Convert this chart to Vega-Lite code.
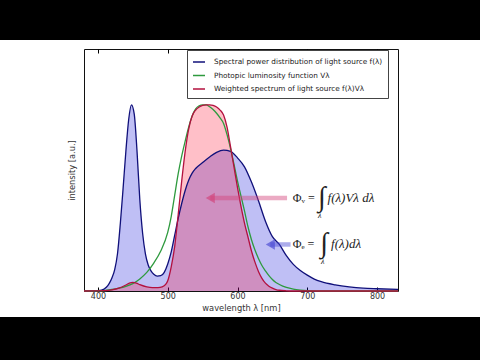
{
 "$schema": "https://vega.github.io/schema/vega-lite/v6.json",
 "background": "white",
 "padding": 0,
 "spacing": 8,
 "config": {"view": {"stroke": null}, "font": "DejaVu Sans"},
 "datasets": {
  "c": [
   {"w":380,"s":"f","v":0},{"w":395,"s":"f","v":0.001},{"w":405,"s":"f","v":0.005},{"w":412,"s":"f","v":0.02},{"w":416,"s":"f","v":0.04},{"w":420,"s":"f","v":0.07},{"w":424,"s":"f","v":0.115},{"w":428,"s":"f","v":0.2},{"w":432,"s":"f","v":0.36},{"w":436,"s":"f","v":0.55},{"w":440,"s":"f","v":0.75},{"w":444,"s":"f","v":0.92},{"w":448,"s":"f","v":1.0},{"w":452,"s":"f","v":0.95},{"w":456,"s":"f","v":0.75},{"w":460,"s":"f","v":0.49},{"w":464,"s":"f","v":0.31},{"w":468,"s":"f","v":0.2},{"w":472,"s":"f","v":0.14},{"w":476,"s":"f","v":0.108},{"w":480,"s":"f","v":0.09},{"w":485,"s":"f","v":0.08},{"w":490,"s":"f","v":0.082},{"w":495,"s":"f","v":0.1},{"w":500,"s":"f","v":0.145},{"w":505,"s":"f","v":0.21},{"w":510,"s":"f","v":0.3},{"w":515,"s":"f","v":0.39},{"w":520,"s":"f","v":0.47},{"w":525,"s":"f","v":0.54},{"w":530,"s":"f","v":0.595},{"w":535,"s":"f","v":0.633},{"w":540,"s":"f","v":0.658},{"w":550,"s":"f","v":0.69},{"w":560,"s":"f","v":0.72},{"w":570,"s":"f","v":0.745},{"w":580,"s":"f","v":0.757},{"w":590,"s":"f","v":0.75},{"w":600,"s":"f","v":0.715},{"w":610,"s":"f","v":0.667},{"w":620,"s":"f","v":0.585},{"w":630,"s":"f","v":0.485},{"w":640,"s":"f","v":0.375},{"w":650,"s":"f","v":0.292},{"w":660,"s":"f","v":0.25},{"w":670,"s":"f","v":0.19},{"w":680,"s":"f","v":0.143},{"w":690,"s":"f","v":0.11},{"w":700,"s":"f","v":0.085},{"w":710,"s":"f","v":0.064},{"w":720,"s":"f","v":0.05},{"w":740,"s":"f","v":0.033},{"w":760,"s":"f","v":0.022},{"w":780,"s":"f","v":0.015},{"w":800,"s":"f","v":0.012},{"w":830,"s":"f","v":0.009},
   {"w":380,"s":"V","v":0},{"w":405,"s":"V","v":0.001},{"w":420,"s":"V","v":0.008},{"w":430,"s":"V","v":0.015},{"w":440,"s":"V","v":0.025},{"w":450,"s":"V","v":0.04},{"w":460,"s":"V","v":0.065},{"w":470,"s":"V","v":0.1},{"w":480,"s":"V","v":0.15},{"w":490,"s":"V","v":0.215},{"w":500,"s":"V","v":0.315},{"w":505,"s":"V","v":0.4},{"w":510,"s":"V","v":0.515},{"w":515,"s":"V","v":0.63},{"w":520,"s":"V","v":0.725},{"w":525,"s":"V","v":0.805},{"w":530,"s":"V","v":0.88},{"w":535,"s":"V","v":0.94},{"w":540,"s":"V","v":0.978},{"w":545,"s":"V","v":0.995},{"w":550,"s":"V","v":1.0},{"w":555,"s":"V","v":1.0},{"w":560,"s":"V","v":0.99},{"w":565,"s":"V","v":0.975},{"w":570,"s":"V","v":0.955},{"w":575,"s":"V","v":0.93},{"w":580,"s":"V","v":0.9},{"w":585,"s":"V","v":0.84},{"w":590,"s":"V","v":0.765},{"w":595,"s":"V","v":0.68},{"w":600,"s":"V","v":0.59},{"w":605,"s":"V","v":0.51},{"w":610,"s":"V","v":0.43},{"w":615,"s":"V","v":0.345},{"w":620,"s":"V","v":0.275},{"w":625,"s":"V","v":0.22},{"w":630,"s":"V","v":0.175},{"w":635,"s":"V","v":0.137},{"w":640,"s":"V","v":0.108},{"w":645,"s":"V","v":0.083},{"w":650,"s":"V","v":0.062},{"w":655,"s":"V","v":0.046},{"w":660,"s":"V","v":0.035},{"w":670,"s":"V","v":0.019},{"w":680,"s":"V","v":0.01},{"w":690,"s":"V","v":0.005},{"w":700,"s":"V","v":0.002},{"w":720,"s":"V","v":0},{"w":830,"s":"V","v":0},
   {"w":380,"s":"fV","v":0},{"w":410,"s":"fV","v":0.002},{"w":420,"s":"fV","v":0.006},{"w":430,"s":"fV","v":0.015},{"w":440,"s":"fV","v":0.032},{"w":445,"s":"fV","v":0.042},{"w":450,"s":"fV","v":0.046},{"w":455,"s":"fV","v":0.042},{"w":460,"s":"fV","v":0.034},{"w":470,"s":"fV","v":0.022},{"w":478,"s":"fV","v":0.018},{"w":486,"s":"fV","v":0.018},{"w":492,"s":"fV","v":0.022},{"w":497,"s":"fV","v":0.035},{"w":500,"s":"fV","v":0.055},{"w":505,"s":"fV","v":0.13},{"w":510,"s":"fV","v":0.24},{"w":515,"s":"fV","v":0.41},{"w":520,"s":"fV","v":0.59},{"w":525,"s":"fV","v":0.75},{"w":530,"s":"fV","v":0.87},{"w":535,"s":"fV","v":0.94},{"w":540,"s":"fV","v":0.972},{"w":545,"s":"fV","v":0.988},{"w":550,"s":"fV","v":0.997},{"w":555,"s":"fV","v":1.0},{"w":560,"s":"fV","v":1.0},{"w":565,"s":"fV","v":0.997},{"w":570,"s":"fV","v":0.988},{"w":575,"s":"fV","v":0.972},{"w":580,"s":"fV","v":0.945},{"w":585,"s":"fV","v":0.88},{"w":590,"s":"fV","v":0.775},{"w":595,"s":"fV","v":0.665},{"w":600,"s":"fV","v":0.555},{"w":605,"s":"fV","v":0.455},{"w":610,"s":"fV","v":0.365},{"w":615,"s":"fV","v":0.29},{"w":620,"s":"fV","v":0.215},{"w":625,"s":"fV","v":0.155},{"w":630,"s":"fV","v":0.105},{"w":635,"s":"fV","v":0.068},{"w":640,"s":"fV","v":0.042},{"w":645,"s":"fV","v":0.026},{"w":650,"s":"fV","v":0.015},{"w":655,"s":"fV","v":0.008},{"w":660,"s":"fV","v":0.004},{"w":670,"s":"fV","v":0.001},{"w":680,"s":"fV","v":0},{"w":830,"s":"fV","v":0}
  ],
  "arr": [
   {"w": 671, "w2": 561, "v": 0.5, "k": "v"},
   {"w": 676, "w2": 647, "v": 0.25, "k": "e"}
  ],
  "phi": [
   {"w": 679, "v": 0.5, "t": "Φᵥ ="},
   {"w": 679, "v": 0.25, "t": "Φₑ ="}
  ],
  "int": [
   {"w": 721, "v": 0.5, "t": "∫"},
   {"w": 724, "v": 0.25, "t": "∫"}
  ],
  "ann": [
   {"w": 729, "v": 0.5, "t": "f(λ)Vλ dλ"},
   {"w": 734, "v": 0.25, "t": "f(λ)dλ"}
  ],
  "sub": [
   {"w": 718, "v": 0.405, "t": "λ"},
   {"w": 722, "v": 0.155, "t": "λ"}
  ]
 },
 "vconcat": [
  {"width": 480, "height": 40, "data": {"values": [{"k": 1}]}, "mark": {"type": "rect", "color": "#000"}},
  {"spacing": 5, "vconcat": [
   {"spacing": 0, "hconcat": [
    {"width": 66, "height": 242, "data": {"values": [{"k": 1}]}, "mark": {"type": "rect", "opacity": 0}},
    {
     "width": 314, "height": 242,
     "view": {"stroke": "#111", "strokeWidth": 1},
     "encoding": {
      "x": {"field": "w", "type": "quantitative", "scale": {"domain": [380, 830], "nice": false, "zero": false}, "axis": null},
      "y": {"field": "v", "type": "quantitative", "scale": {"domain": [0, 1.3], "nice": false}, "axis": {"title": "intensity [a.u.]", "labels": false, "ticks": false, "domain": false, "grid": false, "titleFontSize": 8.3, "titleFontWeight": "normal", "titleColor": "#333", "titlePadding": 8}}
     },
     "layer": [
      {"data": {"name": "c"}, "transform": [{"filter": "datum.s === 'f'"}],
       "mark": {"type": "area", "interpolate": "monotone", "fill": "#0000d8", "fillOpacity": 0.25},
       "encoding": {"x": {"field": "w", "type": "quantitative", "scale": {"domain": [380, 830], "nice": false, "zero": false},
        "axis": {"orient": "bottom", "values": [400, 500, 600, 700, 800], "format": "d", "title": "wavelength λ [nm]", "titleFontSize": 8.3, "titleFontWeight": "normal", "titleColor": "#333", "titlePadding": 3, "labelFontSize": 8, "labelColor": "#333", "labelPadding": 5, "domain": false, "grid": false, "tickSize": -4, "tickColor": "#000"}}}},
      {"data": {"name": "c"}, "transform": [{"filter": "datum.s === 'fV'"}],
       "mark": {"type": "area", "interpolate": "monotone", "fill": "#ff0024", "fillOpacity": 0.25}},
      {"data": {"name": "c"},
       "mark": {"type": "line", "interpolate": "monotone", "strokeWidth": 1.3},
       "encoding": {
        "x": {"field": "w", "type": "quantitative", "scale": {"domain": [380, 830], "nice": false, "zero": false},
         "axis": {"orient": "top", "values": [400, 500, 600, 700, 800], "labels": false, "title": null, "domain": false, "grid": false, "tickSize": -4, "tickColor": "#000"}},
        "color": {"field": "s", "type": "nominal", "scale": {"domain": ["f", "V", "fV"], "range": ["#10107a", "#2e9a3e", "#b3103e"]},
         "legend": {"title": null, "orient": "none", "legendX": 187, "legendY": 50, "symbolType": "stroke", "symbolSize": 144, "symbolStrokeWidth": 1.5, "labelFontSize": 7.3, "labelColor": "#222", "labelLimit": 300, "strokeColor": "#444", "fillColor": "#fff", "padding": 5, "rowPadding": 2.5, "labelOffset": 8,
          "labelExpr": "datum.value === 'f' ? 'Spectral power distribution of light source f(λ)' : datum.value === 'V' ? 'Photopic luminosity function Vλ' : 'Weighted spectrum of light source f(λ)Vλ'"}}
       }},
      {"data": {"name": "arr"},
       "mark": {"type": "rule", "strokeWidth": 4.5, "strokeOpacity": 0.45},
       "encoding": {"x2": {"field": "w2"}, "stroke": {"field": "k", "type": "nominal", "scale": {"domain": ["v", "e"], "range": ["#d2427a", "#4646d2"]}, "legend": null}}},
      {"data": {"name": "arr"},
       "mark": {"type": "point", "shape": "triangle-left", "filled": true, "size": 110, "opacity": 0.65},
       "encoding": {"x": {"field": "w2", "type": "quantitative", "scale": {"domain": [380, 830], "nice": false, "zero": false}, "axis": null},
        "fill": {"field": "k", "type": "nominal", "scale": {"domain": ["v", "e"], "range": ["#d2427a", "#4646d2"]}, "legend": null}}},
      {"data": {"name": "phi"},
       "mark": {"type": "text", "align": "left", "baseline": "middle", "font": "Liberation Serif", "fontSize": 12, "color": "#222"},
       "encoding": {"text": {"field": "t"}}},
      {"data": {"name": "int"},
       "mark": {"type": "text", "align": "center", "baseline": "middle", "font": "Liberation Serif", "fontSize": 28, "color": "#222"},
       "encoding": {"text": {"field": "t"}}},
      {"data": {"name": "ann"},
       "mark": {"type": "text", "align": "left", "baseline": "middle", "font": "Liberation Serif", "fontStyle": "italic", "fontSize": 13, "color": "#222"},
       "encoding": {"text": {"field": "t"}}},
      {"data": {"name": "sub"},
       "mark": {"type": "text", "align": "center", "baseline": "middle", "font": "Liberation Serif", "fontStyle": "italic", "fontSize": 8, "color": "#222"},
       "encoding": {"text": {"field": "t"}}}
     ],
     "resolve": {"axis": {"x": "independent"}}
    }
   ]},
   {"width": 480, "height": 45, "data": {"values": [{"k": 1}]}, "mark": {"type": "rect", "color": "#000"}}
  ]}
 ]
}
